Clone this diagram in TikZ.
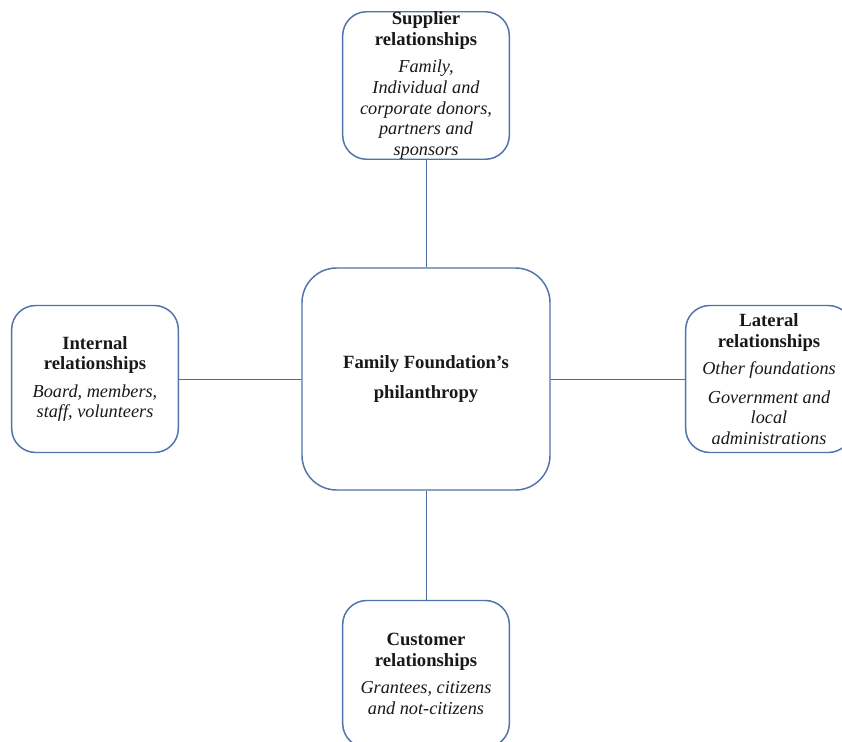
\documentclass[tikz,border=0pt]{standalone}
\usepackage{fontspec}
\setmainfont{Liberation Serif}
\definecolor{boxblue}{RGB}{79,115,170}
\definecolor{linkblue}{RGB}{75,105,155}
% title lines (bold) and description lines (italic)
\newcommand\ttl[1]{{\fontsize{14}{15.75}\selectfont\bfseries #1}}
\newcommand\bdy[1]{{\fontsize{13.7}{15}\selectfont\itshape #1}}
\begin{document}
\begin{tikzpicture}[x=0.75pt,y=-0.75pt,
  box/.style={draw=boxblue, line width=1.1pt, rounded corners=18pt, fill=white,
    align=center, inner sep=0pt, minimum width=125pt, minimum height=110.25pt,
    text=black!90, font=\fontsize{13}{15.5}\selectfont},
  hub/.style={box, rounded corners=26pt, minimum width=186pt, minimum height=166.5pt},
  link/.style={draw=linkblue, line width=0.75pt}]
\fill[white] (0,0) rectangle (842,742);
\useasboundingbox (0,0) rectangle (842,742);

\node[hub] (hub) at (426,379) {\ttl{Family Foundation’s}\\[7pt]\ttl{philanthropy}};

\node[box] (sup) at (426,85.5) {\ttl{Supplier}\\\ttl{relationships}\\[5pt]
  \bdy{Family,}\\\bdy{Individual and}\\\bdy{corporate donors,}\\\bdy{partners and}\\\bdy{sponsors}};

\node[box] (int) at (95,379) {\ttl{Internal}\\\ttl{relationships}\\[5pt]
  \bdy{Board, members,}\\\bdy{staff, volunteers}};

\node[box] (lat) at (769,379) {\ttl{Lateral}\\\ttl{relationships}\\[5pt]
  \bdy{Other foundations}\\[6pt]\bdy{Government and}\\\bdy{local}\\\bdy{administrations}};

\node[box] (cus) at (426,674) {\ttl{Customer}\\\ttl{relationships}\\[5pt]
  \bdy{Grantees, citizens}\\\bdy{and not-citizens}};

\draw[link] (sup) -- (hub);
\draw[link] (hub) -- (cus);
\draw[link] (int) -- (hub);
\draw[link] (hub) -- (lat);
\end{tikzpicture}
\end{document}
